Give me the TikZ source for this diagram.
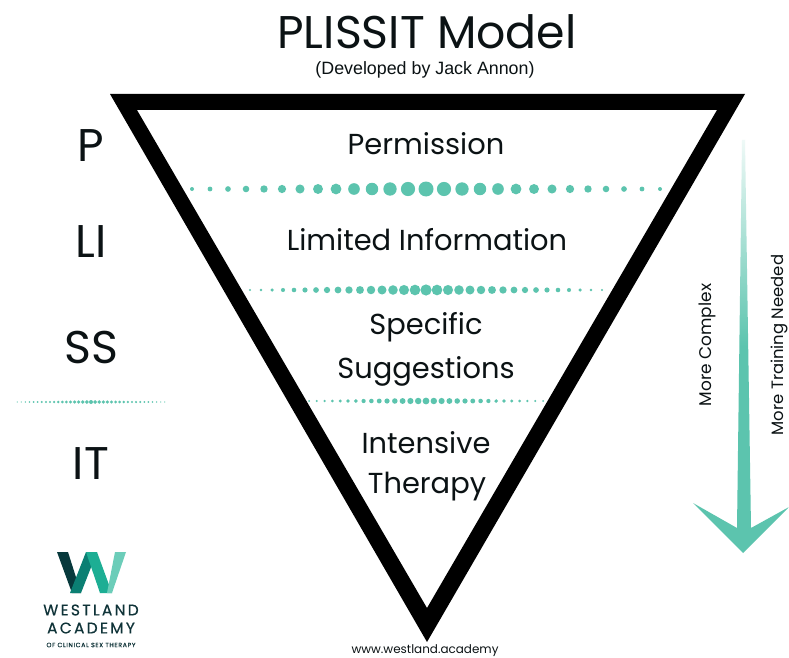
\documentclass[tikz,border=0pt]{standalone}
\usepackage{fontspec}
\setmainfont{Poppins}
\newfontfamily\helv{Liberation Sans}
\newfontfamily\logoA[LetterSpace=15,FakeBold=0.4]{Poppins}
\newfontfamily\logoB[LetterSpace=10,FakeBold=0.4]{Poppins}
\definecolor{teal1}{HTML}{5CC4AE}
\definecolor{dk}{HTML}{0B1214}
\definecolor{wdark}{HTML}{07393C}
\definecolor{wmid}{HTML}{0B7F73}
\definecolor{wgreen}{HTML}{1DAE94}
\definecolor{wlight}{HTML}{6CCDB9}
\definecolor{logotxt}{HTML}{0F3338}
\newcommand{\dotrow}[6]{% cx, y, half count, spacing, rmax, rmin
  \foreach \i in {-#3,...,#3}{
    \pgfmathsetmacro{\rr}{#6+(#5-#6)*(1-abs(\i)/#3)}
    \fill[teal1] ({#1+\i*#4},#2) circle[radius=\rr];
  }}
\tikzset{lab/.style={font=\fontsize{#1}{#1}\selectfont,text=dk,inner sep=0pt,align=center}}
\begin{document}
\begin{tikzpicture}[x=1bp,y=-1bp]
\useasboundingbox (0,0) rectangle (789,658);
\fill[white] (0,0) rectangle (789,658);
% triangle
\fill[black,even odd rule] (110,94) -- (745,94) -- (427,642) -- cycle
  (137,110) -- (717,110) -- (427,608) -- cycle;
% title
\node[lab=46] (title) at (427,32) {PLISSIT Model};
\node[inner sep=0pt,text=dk,font=\helv\fontsize{17.9}{18}\selectfont] (sub) at (425,70) {(Developed by Jack Annon)};
% inside labels
\node[lab=29] (perm) at (426,144) {Permission};
\node[lab=29] (li) at (427,240) {Limited Information};
\node[lab=29] (ss1) at (426,327) {Specific};
\node[lab=29] (ss2) at (426,371) {Suggestions};
\node[lab=29] (it1) at (426,443) {Intensive};
\node[lab=29] (it2) at (427,487) {Therapy};
% left labels
\node[lab=46] (P) at (91,146) {P};
\node[lab=46] (LI) at (91,242) {LI};
\node[lab=46] (SS) at (91,347) {SS};
\node[lab=46] (IT) at (91,464) {IT};
% dotted rows
\dotrow{426}{189}{13}{18}{7.5}{2}
\dotrow{426}{290}{16}{11}{5.6}{1.2}
\dotrow{426}{401}{15}{7.8}{3.4}{1}
\dotrow{91}{402}{18}{4.1}{2}{0.6}
% arrow
\shade[top color=teal1!10,bottom color=teal1,middle color=teal1] (742,140) -- (745,140) -- (751,528) -- (789,507) -- (743,553) -- (693,503) -- (737,528) -- cycle;
\node[lab=17,rotate=90] (mc) at (707,345) {More Complex};
\node[lab=16.5,rotate=90] (mt) at (779,345) {More Training Needed};
% logo
\fill[wdark] (57,552) -- (68,552) -- (81,593) -- (72,593) -- cycle;
\fill[wmid] (70,593) -- (86,552) -- (97,552) -- (81,593) -- cycle;
\fill[wgreen] (86,552) -- (97,552) -- (112,593) -- (100,593) -- cycle;
\fill[wlight] (107,593) -- (115,552) -- (126,552) -- (112,593) -- cycle;
\node[inner sep=0pt,text=logotxt,font=\logoA\fontsize{15.5}{16}\selectfont] (w1) at (91,610) {WESTLAND};
\node[inner sep=0pt,text=logotxt,font=\logoA\fontsize{15.5}{16}\selectfont] (w2) at (91,628) {ACADEMY};
\node[inner sep=0pt,text=logotxt,font=\logoB\fontsize{6.3}{7}\selectfont] (w3) at (91,645) {OF CLINICAL SEX THERAPY};
\node[lab=12] (url) at (425,651) {www.westland.academy};
\end{tikzpicture}
\end{document}
